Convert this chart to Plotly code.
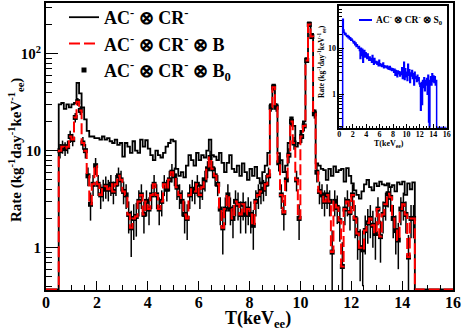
import numpy as np
import plotly.graph_objects as go

# 0.1 keV bins, data from 0.5 to 14.5 keV (histogram range 0-16)
BIN_W = 0.1
X_FIRST = 0.5
X_MAX = 16.0

# AC- (x) CR-  (black solid)
rate_a = [
    30, 31, 27, 30, 28,
    30, 31, 50, 39, 28, 21, 16, 14, 14, 13.5,
    13.5, 13, 14, 13, 13.5, 12.5, 12, 13, 11.5, 12,
    8.7, 12, 11, 9.5, 12.5, 10, 9.5, 13, 11, 12.8,
    10.5, 9, 8, 10, 9, 8.5, 9.5, 11, 12, 13,
    12.5, 6.5, 5.5, 6, 5.3, 7, 9, 8, 7, 9.5,
    8, 9, 8.5, 10, 13, 9, 8.7, 8, 9.5, 7.5,
    6, 7.5, 9, 6.5, 6, 7, 5.5, 7.4, 6, 5,
    6.5, 5.5, 6.8, 5.2, 4.6, 6, 7, 9.5, 30, 48,
    30, 9.4, 8, 6, 7, 12, 22, 18, 11, 12,
    16, 20, 90, 210, 160, 26, 7.4, 7, 6.5, 6.3,
    5, 6.5, 5.5, 6.9, 6, 6.3, 6.5, 4.8, 6.6, 5.5,
    4.6, 3.9, 3.5, 3.2, 3.8, 4.5, 5, 4.2, 3.9, 4.6,
    4.3, 4.8, 4.5, 4.4, 4.6, 4.2, 4.4, 3.8, 4.7, 4.5,
    4.8, 3.5, 4.6, 4.0, 4.7,
]

# AC- (x) CR- (x) B  (red dashed)
rate_b = [
    10, 11, 10.5, 11, 14,
    13, 22, 32, 26, 12, 10, 5.5, 2.8, 4.5, 7,
    4.5, 3.5, 4.0, 4.3, 4.0, 4.5, 3.8, 4.5, 5.5, 5.0,
    3.8, 3.5, 2.2, 1.6, 2.0, 2.1, 3.0, 3.5, 2.2, 3.0,
    2.5, 3.5, 4.5, 3.5, 2.5, 3.0, 4.5, 4.0, 5.0, 6.0,
    5.5, 4.2, 3.5, 3.0, 2.2, 2.0, 3.5, 4.0, 3.8, 4.5,
    3.5, 4.2, 5.0, 6.5, 8.5, 6.5, 5.5, 4.5, 2.5, 1.6,
    2.5, 3.5, 2.5, 2.0, 3.0, 2.8, 2.2, 2.8, 2.2, 2.5,
    2.2, 1.7, 3.0, 3.5, 3.8, 4.0, 4.5, 5.5, 28, 45,
    28, 7.5, 3.5, 2.3, 5, 9, 20, 12, 5, 2,
    14, 18, 85, 200, 150, 24, 6, 3.8, 3.5, 3.0,
    3.5, 3.0, 0.9, 3.0, 2.6, 1.9, 0.64, 2.5, 3.0, 2.3,
    3.5, 2.0, 1.4, 1.0, 0.95, 1.5, 1.8, 2.0, 1.7, 1.4,
    2.5, 1.3, 2.2, 2.8, 3.6, 3.3, 2.0, 1.5, 1.2, 2.5,
    2.8, 2.2, 0.8, 2.0, 2.0,
]

# AC- (x) CR- (x) B0  (black points) - coincides with B at this resolution
rate_b0 = list(rate_b)
err_b0 = [
    1.7, 1.7, 1.7, 1.7, 2.0,
    1.9, 2.5, 3.0, 2.7, 1.8, 1.7, 1.2, 0.9, 1.1, 1.4,
    1.1, 1.0, 1.0, 1.1, 1.0, 1.1, 1.0, 1.1, 1.2, 1.2,
    1.0, 1.0, 0.8, 0.8, 0.8, 0.8, 0.9, 1.0, 0.8, 0.9,
    0.8, 1.0, 1.1, 1.0, 0.8, 0.9, 1.1, 1.0, 1.2, 1.3,
    1.2, 1.1, 1.0, 0.9, 0.8, 0.8, 1.0, 1.0, 1.0, 1.1,
    1.0, 1.1, 1.2, 1.3, 1.5, 1.3, 1.2, 1.1, 0.8, 0.75,
    0.8, 1.0, 0.8, 0.75, 0.9, 0.9, 0.8, 0.9, 0.8, 0.8,
    0.8, 0.75, 0.9, 1.0, 1.0, 1.0, 1.1, 1.2, 2.8, 3.5,
    2.8, 1.4, 1.0, 0.8, 1.2, 1.6, 2.3, 1.8, 1.2, 0.8,
    2.0, 2.2, 4.8, 7.4, 6.4, 2.6, 1.3, 1.0, 1.0, 0.9,
    1.0, 0.9, 0.6, 0.9, 0.85, 0.75, 0.5, 0.8, 0.9, 0.8,
    1.0, 0.75, 0.65, 0.55, 0.55, 0.65, 0.7, 0.75, 0.7, 0.65,
    0.8, 0.6, 0.8, 0.9, 1.0, 0.95, 0.75, 0.65, 0.6, 0.8,
    0.9, 0.8, 0.55, 0.75, 0.75,
]

# inset: AC- (x) CR- (x) S0  (blue)
rate_s0 = [
    43, 25, 22, 20, 21,
    19, 18, 19, 17, 18, 16, 17, 15, 16, 15,
    14, 13, 14, 12, 13, 11, 12, 11, 10, 11,
    9, 6, 10, 7, 9.5, 5, 8, 9, 6.5, 8,
    7, 6, 7.5, 6, 5.5, 6.5, 5.5, 6, 5, 7,
    5.5, 4.5, 6, 5, 4.8, 5.2, 4.5, 5, 4.2, 5.5,
    4.6, 4.2, 4.5, 4.0, 4.4, 4.8, 3.8, 4.2, 4.0, 3.9,
    3.8, 4.1, 3.6, 3.9, 3.5, 4.0, 3.4, 3.7, 3.3, 3.6,
    3.4, 3.0, 3.5, 2.6, 3.3, 3.0, 2.4, 3.2, 2.8, 3.1,
    2.5, 3.0, 2.7, 3.8, 2.2, 3.3, 5.0, 2.1, 3.6, 2.4,
    3.0, 2.0, 4.5, 2.6, 3.4, 1.8, 2.9, 2.5, 3.3, 2.2,
    2.8, 1.6, 3.0, 2.4, 2.2, 1.9, 2.6, 2.0, 2.3, 1.7,
    1.5, 0.45, 1.8, 0.6, 2.0, 1.4, 2.3, 1.2, 2.0, 1.6,
    2.2, 1.0, 2.6, 0.25, 0, 2.0, 2.4, 1.6, 2.8, 1.9,
    2.5, 1.8, 2.4, 1.6, 2.0,
]

x_ticks_main = [0, 2, 4, 6, 8, 10, 12, 14, 16]
y_tickvals_main = [1, 10, 100]
y_ticktext_main = ["1", "10", "10<sup>2</sup>"]
y_tickvals_inset = [1, 10]
y_ticktext_inset = ["1", "10"]

Y_RANGE_MAIN = [np.log10(0.366), np.log10(333)]
Y_RANGE_INSET = [-0.726, 1.92]

FIG_W, FIG_H = 463, 333
ML, MR, MT, MB = 46, 10, 3, 43
PW, PH = FIG_W - ML - MR, FIG_H - MT - MB
FONT = "Liberation Serif"


def px(x):
    return (x - ML) / PW


def py(y):
    return (FIG_H - MB - y) / PH


def bold(size):
    return dict(family=FONT, size=size, weight="bold", color="black")


def btext(labels):
    return [f"<b>{t}</b>" for t in labels]


n_bins = int(round(X_MAX / BIN_W))
edges = np.round(np.arange(n_bins + 1) * BIN_W, 2)
first = int(round(X_FIRST / BIN_W))


def padded(vals):
    out = [0.0] * n_bins
    out[first:first + len(vals)] = vals
    return out


def step_xy(vals, yrange):
    floor = 10 ** (yrange[0] + 0.006)
    full = [v if v > 0 else floor for v in padded(vals)]
    return list(edges[:-1]) + [edges[-1]], full + [full[-1]]


fig = go.Figure()

xa, ya = step_xy(rate_a, Y_RANGE_MAIN)
fig.add_trace(go.Scatter(
    x=xa, y=ya, mode="lines", line=dict(color="black", width=1.8, shape="hv"),
    name="AC<sup>-</sup> ⊗ CR<sup>-</sup>", legendrank=1,
))

centers = edges[first:first + len(rate_b0)] + BIN_W / 2
fig.add_trace(go.Scatter(
    x=centers, y=rate_b0, mode="markers",
    marker=dict(symbol="square", size=5, color="black"),
    error_y=dict(type="data", array=err_b0, color="black", thickness=1.5, width=0),
    error_x=dict(type="constant", value=BIN_W / 2, color="black", thickness=2, width=0),
    name="AC<sup>-</sup> ⊗ CR<sup>-</sup> ⊗ B<sub>0</sub>", legendrank=3,
))

xb, yb = step_xy(rate_b, Y_RANGE_MAIN)
fig.add_trace(go.Scatter(
    x=xb, y=yb, mode="lines",
    line=dict(color="red", width=2, shape="hv", dash="11px,4px"),
    name="AC<sup>-</sup> ⊗ CR<sup>-</sup> ⊗ B", legendrank=2,
))

xs, ys = step_xy(rate_s0, Y_RANGE_INSET)
fig.add_trace(go.Scatter(
    x=xs, y=ys, mode="lines", line=dict(color="blue", width=1.5, shape="hv"),
    xaxis="x2", yaxis="y2", showlegend=False,
))

axis_common = dict(showline=True, linecolor="black", mirror=True, showgrid=False,
                   zeroline=False, ticks="inside", tickcolor="black", automargin=False)

fig.update_layout(
    width=FIG_W, height=FIG_H,
    margin=dict(l=ML, r=MR, t=MT, b=MB, autoexpand=False),
    paper_bgcolor="white", plot_bgcolor="white",
    font=dict(family=FONT, color="black"),
    xaxis=dict(
        **axis_common, range=[0, X_MAX], tickvals=x_ticks_main,
        ticktext=btext(x_ticks_main), ticklen=9, tickwidth=1.2,
        linewidth=2, tickfont=bold(16), ticklabelstandoff=-3,
        minor=dict(ticks="inside", dtick=0.5, tick0=0, ticklen=5, tickcolor="black"),
    ),
    yaxis=dict(
        **axis_common, type="log", range=Y_RANGE_MAIN, tickvals=y_tickvals_main,
        ticktext=btext(y_ticktext_main), ticklen=12, tickwidth=1.2, linewidth=2,
        tickfont=bold(15),
        minor=dict(ticks="inside", ticklen=6, tickcolor="black", tickmode="array",
                   tickvals=[0.4, 0.5, 0.6, 0.7, 0.8, 0.9, 2, 3, 4, 5, 6, 7, 8, 9,
                             20, 30, 40, 50, 60, 70, 80, 90, 200, 300]),
    ),
    xaxis2=dict(
        **axis_common, domain=[px(339.3), px(446.7)], anchor="y2", range=[0, X_MAX],
        tickvals=x_ticks_main, ticktext=btext(x_ticks_main), ticklen=4,
        linewidth=1.5, tickfont=bold(8), ticklabelstandoff=-2,
        minor=dict(ticks="inside", dtick=0.5, tick0=0, ticklen=2, tickcolor="black"),
    ),
    yaxis2=dict(
        **axis_common, domain=[py(127.7), py(6)], anchor="x2", type="log",
        range=Y_RANGE_INSET, tickvals=y_tickvals_inset,
        ticktext=btext(y_ticktext_inset), ticklen=5, linewidth=1.5, tickfont=bold(8),
        minor=dict(ticks="inside", ticklen=3, tickcolor="black", tickmode="array",
                   tickvals=[0.2, 0.3, 0.4, 0.5, 0.6, 0.7, 0.8, 0.9, 2, 3, 4, 5, 6, 7,
                             8, 9, 20, 30, 40, 50, 60, 70, 80]),
    ),
    legend=dict(
        x=px(64), y=py(-1), xanchor="left", yanchor="top",
        bgcolor="rgba(0,0,0,0)", font=bold(18), tracegroupgap=0,
    ),
    showlegend=True,
)

annotations = [
    dict(text="T(keV<sub>ee</sub>)", x=px(258), y=py(319), size=18),
    dict(text="Rate (kg<sup>-1</sup>day<sup>-1</sup>keV<sup>-1</sup><sub>ee</sub>)",
         x=px(16), y=py(150), size=15, angle=-90),
    dict(text="T(keV<sub>ee</sub>)", x=px(389), y=py(144), size=8),
    dict(text="Rate (kg<sup>-1</sup>day<sup>-1</sup>keV<sup>-1</sup><sub>ee</sub>)",
         x=px(322), y=py(62), size=7.5, angle=-90),
]
for a in annotations:
    fig.add_annotation(
        text=f"<b>{a['text']}</b>", x=a["x"], y=a["y"], xref="paper", yref="paper",
        xanchor="center", yanchor="middle",
        showarrow=False, textangle=a.get("angle", 0), font=bold(a["size"]),
    )

# inset legend
fig.add_shape(type="line", xref="paper", yref="paper",
              x0=px(359), x1=px(372), y0=py(20), y1=py(20),
              line=dict(color="blue", width=2))
fig.add_annotation(
    text="<b>AC<sup>-</sup> ⊗ CR<sup>-</sup> ⊗ S<sub>0</sub></b>", x=px(374), y=py(20),
    xref="paper", yref="paper", xanchor="left", yanchor="middle", showarrow=False,
    font=bold(9.5),
)

# page body has a default 8px margin; drop it so the figure sits at the origin
fig.write_html(
    "out.html",
    config={"displayModeBar": False},
    post_script="document.body.style.margin='0';",
)
